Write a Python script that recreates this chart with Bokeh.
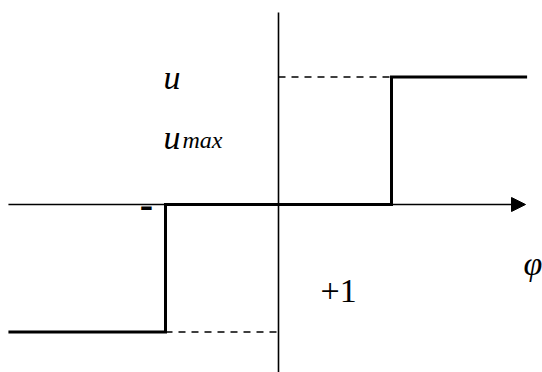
from bokeh.plotting import figure
from bokeh.models import Range1d, Arrow, NormalHead
from bokeh.core.properties import value
from bokeh.embed import file_html
from bokeh.resources import INLINE

# --- data (phi in units of the switching point, u in units of u_max) ---
phi_switch = [-1.0, 1.0]          # switching points of the relay
u_levels = [-1.0, 0.0, 1.0]       # -u_max, 0, +u_max
phi_left = -2.39                  # start of drawn characteristic
phi_right = 2.20                  # end of drawn characteristic
phi_axis_end = 2.186              # arrow tip of phi axis
u_axis_top = 1.506                # top of u axis
u_axis_bottom = -1.40

# step characteristic built from the data
step_x = [phi_left, phi_switch[0], phi_switch[0], phi_switch[1], phi_switch[1], phi_right]
step_y = [u_levels[0], u_levels[0], u_levels[1], u_levels[1], u_levels[2], u_levels[2]]

W, H = 542, 372
x0 = -278 / 113
x1 = x0 + W / 113
y1 = 204 / 127.5
y0 = y1 - H / 127.5

p = figure(width=W, height=H, x_range=Range1d(x0, x1), y_range=Range1d(y0, y1),
           output_backend="svg", toolbar_location=None, min_border=0,
           x_axis_type=None, y_axis_type=None)
p.grid.visible = False
p.outline_line_color = None
p.background_fill_color = "white"

# u axis
p.line([0, 0], [u_axis_bottom, u_axis_top], line_color="black", line_width=1.6)
# phi axis with arrow
p.add_layout(Arrow(end=NormalHead(size=14, fill_color="black", line_color="black"),
                   x_start=phi_left, y_start=0, x_end=phi_axis_end, y_end=0,
                   line_color="black", line_width=1.6))

# dashed helper lines
p.line([0, phi_switch[1]], [u_levels[2], u_levels[2]], line_color="black",
       line_width=1.3, line_dash="7 6")
p.line([phi_switch[0], 0], [u_levels[0], u_levels[0]], line_color="black",
       line_width=1.3, line_dash="7 6")

# step characteristic
p.line(step_x, step_y, line_color="black", line_width=3, line_join="miter")

serif = value("Liberation Serif")
p.text(x=[-1.018], y=[0.996], text=["u"], text_font=serif, text_font_style="italic",
       text_font_size="34px", text_baseline="alphabetic", text_align="left")
p.text(x=[-1.018], y=[0.525], text=["u"], text_font=serif, text_font_style="italic",
       text_font_size="34px", text_baseline="alphabetic", text_align="left")
p.text(x=[-0.85], y=[0.502], text=["max"], text_font=serif, text_font_style="italic",
       text_font_size="24px", text_baseline="alphabetic", text_align="left")
p.text(x=[-1.168], y=[0.0], text=["-"], text_font=serif, text_font_style="bold",
       text_font_size="40px", text_baseline="alphabetic", text_align="center")
p.text(x=[2.168], y=[-0.463], text=["φ"], text_font=serif, text_font_style="italic",
       text_font_size="34px", text_baseline="alphabetic", text_align="left")
p.text(x=[0.372], y=[-0.675], text=["+1"], text_font=serif,
       text_font_size="34px", text_baseline="alphabetic", text_align="left")

open("out.html", "w").write(file_html(p, INLINE))
